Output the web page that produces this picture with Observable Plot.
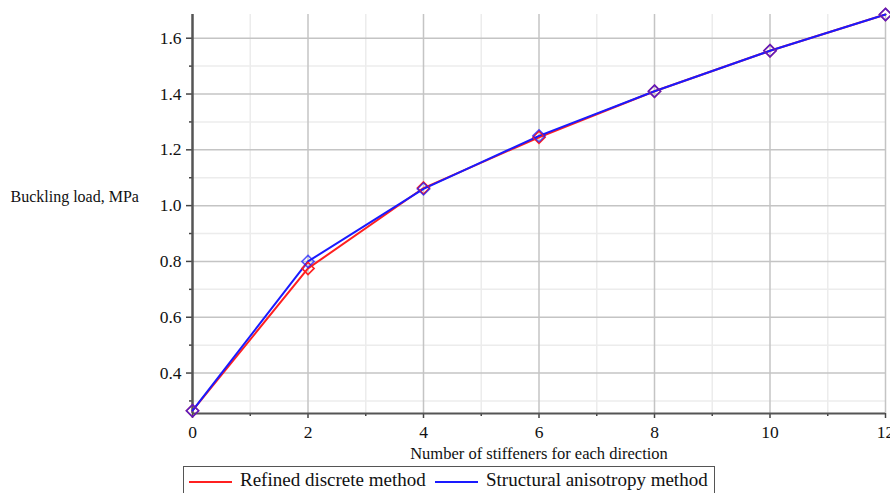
<!DOCTYPE html>
<html>
<head>
<meta charset="utf-8">
<script src="https://cdn.jsdelivr.net/npm/d3@7"></script>
<script src="https://cdn.jsdelivr.net/npm/@observablehq/plot@0.6"></script>
<style>
  html, body { margin: 0; padding: 0; background: #fff; font-family: "Liberation Serif", serif; }
  #chart svg { display: block; }
  #lg { display: block; margin-left: 183px; width: 532px; height: 28px; border: 1px solid #555; box-sizing: border-box; position: relative; font-family: "Liberation Serif", serif; font-size: 19px; color: #111; }
  #lg .item { position: absolute; top: 2px; white-space: nowrap; line-height: 22px; }
  #lg .sw { display: inline-block; width: 43px; height: 2px; margin-right: 8px; vertical-align: middle; }
</style>
</head>
<body>
<div id="chart"></div>
<div id="lg"></div>
<script>
const stiffeners = [0, 2, 4, 6, 8, 10, 12];
const refinedDiscrete = [0.265, 0.775, 1.063, 1.245, 1.41, 1.555, 1.685];
const structuralAnisotropy = [0.265, 0.80, 1.06, 1.25, 1.41, 1.555, 1.685];
const seriesNames = ["Refined discrete method", "Structural anisotropy method"];
const seriesColors = ["#ff2020", "#1a1aff"];
const xMajor = [0, 2, 4, 6, 8, 10, 12];
const xMinor = [1, 3, 5, 7, 9, 11];
const yMajor = [0.4, 0.6, 0.8, 1.0, 1.2, 1.4, 1.6];
const yMinor = [0.3, 0.5, 0.7, 0.9, 1.1, 1.3, 1.5];

const red = stiffeners.map((x, i) => ({x, y: refinedDiscrete[i], s: seriesNames[0]}));
const blue = stiffeners.map((x, i) => ({x, y: structuralAnisotropy[i], s: seriesNames[1]}));

const plot = Plot.plot({
  width: 890,
  height: 466,
  marginLeft: 192,
  marginRight: 5,
  marginTop: 14,
  marginBottom: 53,
  style: {fontFamily: "Liberation Serif, serif", fontSize: "17.5px", color: "#111", background: "#fff", overflow: "visible"},
  x: {domain: [0, 12]},
  y: {domain: [0.255, 1.685]},
  marks: [
    Plot.ruleX(xMinor, {stroke: "#ececec", strokeWidth: 1.5}),
    Plot.ruleY(yMinor, {stroke: "#ececec", strokeWidth: 1.5}),
    Plot.ruleX(xMajor.filter(d => d > 0), {stroke: "#c4c4c4", strokeWidth: 1.5}),
    Plot.ruleY(yMajor, {stroke: "#c4c4c4", strokeWidth: 1.5}),
    Plot.axisX({ticks: xMajor, tickSize: 5, tickPadding: 7, tickFormat: d => String(d), stroke: "#444", strokeWidth: 1.5, label: null}),
    Plot.axisX({ticks: xMinor, tickSize: 3, tickFormat: () => "", stroke: "#444", strokeWidth: 1.5, label: null}),
    Plot.axisY({ticks: yMajor, tickSize: 6, tickPadding: 5, tickFormat: d => d.toFixed(1), stroke: "#444", strokeWidth: 1.5, label: null}),
    Plot.axisY({ticks: yMinor, tickSize: 3, tickFormat: () => "", stroke: "#444", strokeWidth: 1.5, label: null}),
    Plot.ruleX([0], {stroke: "#555", strokeWidth: 2.5}),
    Plot.ruleY([0.255], {stroke: "#555", strokeWidth: 2}),
    Plot.line(red, {x: "x", y: "y", stroke: seriesColors[0], strokeWidth: 2}),
    Plot.line(blue, {x: "x", y: "y", stroke: seriesColors[1], strokeWidth: 2}),
    Plot.dot(red, {x: "x", y: "y", symbol: "diamond2", r: 5.5, stroke: seriesColors[0], strokeWidth: 1.6}),
    Plot.dot(blue, {x: "x", y: "y", symbol: "diamond2", r: 5.5, stroke: seriesColors[1], strokeWidth: 1.6, strokeOpacity: 0.72}),
    Plot.text(["Buckling load, MPa"], {frameAnchor: "left", dx: -182, y: [1.03], textAnchor: "start", fontSize: 16, fill: "#111"}),
    Plot.text(["Number of stiffeners for each direction"], {x: [6], y: [0.255], dy: 40, textAnchor: "middle", fontSize: 16.5, fill: "#111"})
  ]
});
document.getElementById("chart").appendChild(plot);

const legend = document.getElementById("lg");
seriesNames.forEach((name, i) => {
  const item = document.createElement("div");
  item.className = "item";
  item.style.left = (i === 0 ? 5 : 251) + "px";
  const sw = document.createElement("span");
  sw.className = "sw";
  sw.style.background = seriesColors[i];
  const t = document.createElement("span");
  t.textContent = name;
  item.appendChild(sw);
  item.appendChild(t);
  legend.appendChild(item);
});
</script>
</body>
</html>
